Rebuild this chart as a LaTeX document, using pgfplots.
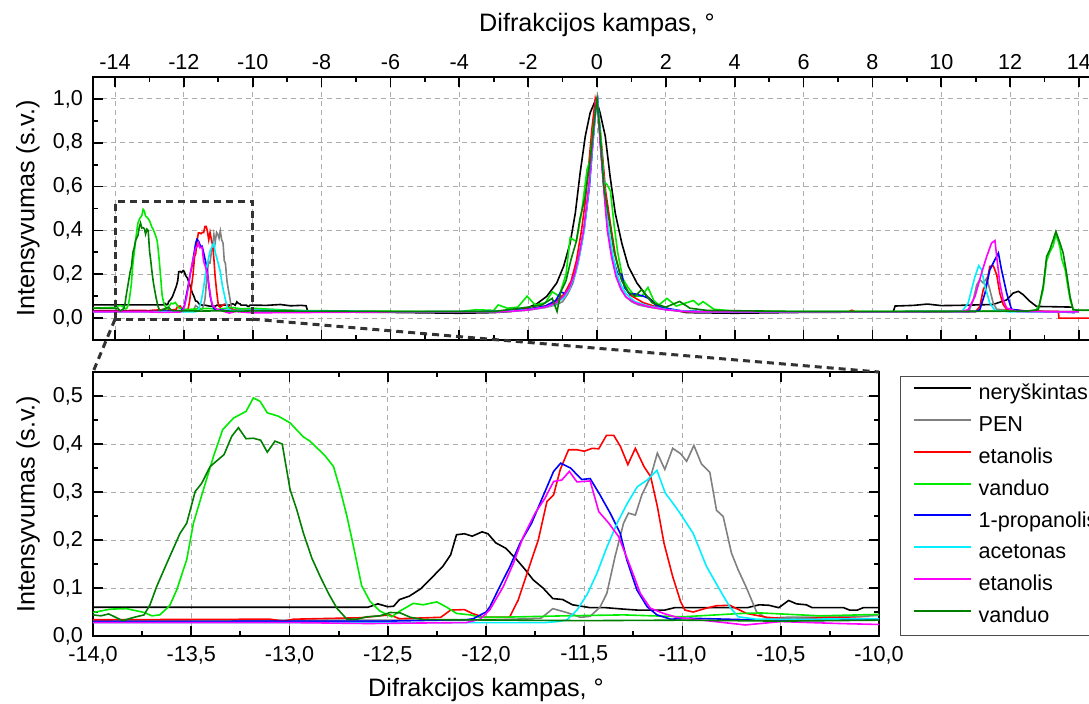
\documentclass[border=0pt]{standalone}
\usepackage{fontspec}
\setmainfont{Liberation Sans}
\usepackage{pgfplots}
\usepackage{pgfplotstable}
\pgfplotsset{compat=1.18}

\definecolor{cGray}{RGB}{128,128,128}
\definecolor{cRed}{RGB}{255,0,0}
\definecolor{cLime}{RGB}{0,235,0}
\definecolor{cBlue}{RGB}{0,0,255}
\definecolor{cCyan}{RGB}{0,240,255}
\definecolor{cMag}{RGB}{255,0,255}
\definecolor{cDG}{RGB}{0,128,0}

% ---------- data ----------
\pgfplotstableread{
x y
-14.64 0.060
-12.60 0.060
-12.55 0.067
-12.50 0.061
-12.47 0.062
-12.44 0.076
-12.39 0.083
-12.33 0.099
-12.27 0.124
-12.22 0.145
-12.18 0.169
-12.15 0.211
-12.11 0.213
-12.07 0.208
-12.02 0.217
-11.99 0.213
-11.95 0.194
-11.90 0.183
-11.85 0.162
-11.80 0.138
-11.76 0.117
-11.71 0.100
-11.66 0.078
-11.61 0.076
-11.56 0.065
-11.47 0.059
-11.39 0.059
-11.30 0.056
-11.23 0.054
-11.09 0.054
-11.04 0.059
-10.96 0.059
-10.67 0.059
-10.61 0.065
-10.56 0.064
-10.51 0.059
-10.46 0.074
-10.42 0.067
-10.37 0.065
-10.34 0.059
-10.18 0.059
-10.15 0.054
-10.11 0.054
-10.08 0.059
-10.00 0.059
-9.60 0.058
-9.20 0.062
-8.90 0.056
-8.60 0.058
-8.45 0.056
-8.40 0.028
-6.00 0.026
-4.00 0.022
-3.00 0.025
-2.52 0.030
-2.03 0.046
-1.75 0.065
-1.46 0.099
-1.17 0.160
-0.97 0.236
-0.78 0.342
-0.63 0.479
-0.49 0.662
-0.34 0.830
-0.20 0.936
-0.03 1.000
0.09 0.936
0.24 0.830
0.38 0.647
0.53 0.479
0.72 0.342
0.91 0.236
1.16 0.160
1.45 0.099
1.74 0.061
2.12 0.040
2.60 0.025
4.00 0.022
6.00 0.026
8.60 0.028
8.66 0.055
9.20 0.058
9.60 0.064
10.00 0.057
10.50 0.058
11.00 0.060
11.50 0.062
11.90 0.083
12.09 0.114
12.24 0.122
12.38 0.107
12.57 0.077
12.77 0.053
13.20 0.052
13.83 0.050
}\tblBlack

\pgfplotstableread{
x y
-14.64 0.033
-12.00 0.033
-11.72 0.037
-11.66 0.057
-11.59 0.049
-11.52 0.039
-11.47 0.041
-11.42 0.060
-11.385 0.089
-11.343 0.166
-11.30 0.235
-11.275 0.256
-11.24 0.252
-11.207 0.294
-11.162 0.332
-11.128 0.381
-11.09 0.347
-11.05 0.391
-11.01 0.380
-10.979 0.364
-10.942 0.397
-10.903 0.358
-10.861 0.341
-10.827 0.262
-10.793 0.249
-10.751 0.173
-10.717 0.138
-10.674 0.100
-10.623 0.050
-10.572 0.037
-10.47 0.039
-10.25 0.039
-10.08 0.041
-10.00 0.043
-8.00 0.030
-4.00 0.028
-3.00 0.028
-2.50 0.030
-2.00 0.036
-1.50 0.048
-1.20 0.060
-1.00 0.075
-0.85 0.110
-0.70 0.160
-0.55 0.250
-0.42 0.360
-0.30 0.500
-0.20 0.660
-0.10 0.840
0.00 1.000
0.08 0.840
0.18 0.640
0.30 0.430
0.42 0.300
0.55 0.200
0.68 0.140
0.82 0.100
1.00 0.075
1.20 0.060
1.50 0.050
2.00 0.038
2.50 0.030
3.00 0.028
8.00 0.028
10.80 0.030
10.93 0.083
11.03 0.152
11.12 0.175
11.22 0.160
11.32 0.182
11.41 0.130
11.51 0.068
11.61 0.040
12.50 0.030
14.00 0.030
}\tblGray

\pgfplotstableread{
x y
-14.64 0.033
-13.10 0.035
-13.03 0.031
-12.98 0.035
-12.64 0.038
-12.49 0.044
-12.44 0.036
-12.23 0.039
-12.18 0.054
-12.11 0.055
-12.07 0.047
-12.01 0.039
-11.88 0.039
-11.836 0.075
-11.785 0.138
-11.734 0.200
-11.69 0.280
-11.656 0.294
-11.622 0.347
-11.58 0.388
-11.537 0.388
-11.50 0.385
-11.46 0.391
-11.426 0.390
-11.387 0.418
-11.35 0.418
-11.316 0.395
-11.278 0.357
-11.24 0.391
-11.196 0.353
-11.162 0.332
-11.128 0.270
-11.094 0.193
-11.05 0.124
-11.01 0.072
-10.988 0.054
-10.946 0.050
-10.878 0.058
-10.827 0.063
-10.759 0.064
-10.674 0.047
-10.572 0.039
-10.437 0.035
-10.25 0.039
-10.00 0.035
-8.00 0.030
-6.00 0.028
-4.00 0.028
-3.00 0.030
-2.50 0.035
-2.00 0.042
-1.50 0.055
-1.20 0.075
-0.95 0.110
-0.75 0.170
-0.60 0.260
-0.45 0.400
-0.35 0.520
-0.25 0.680
-0.15 0.860
-0.05 1.000
0.05 0.930
0.15 0.760
0.25 0.580
0.38 0.440
0.53 0.290
0.72 0.170
0.96 0.105
1.35 0.070
1.83 0.046
2.50 0.030
4.00 0.028
7.30 0.028
7.40 0.036
7.50 0.028
9.00 0.028
11.00 0.030
11.12 0.053
11.22 0.130
11.32 0.160
11.41 0.236
11.51 0.239
11.61 0.198
11.70 0.114
11.80 0.061
11.90 0.040
12.50 0.032
13.40 0.030
13.42 0.000
14.64 0.000
}\tblRed

\pgfplotstableread{
x y
-14.64 0.045
-14.00 0.049
-13.91 0.056
-13.83 0.057
-13.74 0.049
-13.70 0.042
-13.66 0.044
-13.61 0.063
-13.574 0.096
-13.523 0.159
-13.489 0.235
-13.438 0.305
-13.387 0.374
-13.34 0.430
-13.285 0.454
-13.221 0.468
-13.184 0.496
-13.15 0.489
-13.113 0.465
-13.057 0.458
-12.997 0.444
-12.93 0.415
-12.896 0.406
-12.82 0.376
-12.776 0.353
-12.742 0.305
-12.708 0.250
-12.674 0.186
-12.633 0.105
-12.59 0.072
-12.54 0.052
-12.48 0.040
-12.438 0.052
-12.37 0.068
-12.32 0.065
-12.25 0.071
-12.20 0.060
-12.15 0.047
-12.08 0.044
-12.03 0.039
-11.93 0.039
-11.60 0.042
-11.30 0.044
-11.00 0.040
-10.70 0.047
-10.60 0.048
-10.30 0.042
-10.00 0.045
-9.00 0.035
-7.00 0.032
-5.00 0.030
-4.00 0.030
-3.50 0.038
-3.00 0.035
-2.87 0.060
-2.60 0.045
-2.30 0.050
-2.03 0.100
-1.80 0.060
-1.50 0.070
-1.30 0.120
-1.10 0.100
-0.90 0.200
-0.78 0.366
-0.60 0.350
-0.45 0.480
-0.29 0.677
-0.20 0.720
-0.10 0.880
0.00 0.980
0.10 0.850
0.20 0.620
0.29 0.610
0.39 0.580
0.50 0.420
0.60 0.300
0.75 0.180
0.90 0.140
1.10 0.100
1.30 0.100
1.48 0.140
1.65 0.080
1.80 0.060
2.03 0.090
2.30 0.055
2.60 0.070
2.80 0.080
2.95 0.060
3.08 0.075
3.40 0.040
4.00 0.032
6.00 0.030
8.00 0.030
10.00 0.032
12.50 0.032
12.75 0.036
12.85 0.060
12.96 0.130
13.06 0.260
13.15 0.300
13.25 0.330
13.33 0.380
13.40 0.350
13.45 0.320
13.50 0.270
13.54 0.250
13.60 0.220
13.68 0.140
13.75 0.080
13.83 0.040
14.00 0.035
14.64 0.035
}\tblLime

\pgfplotstableread{
x y
-14.64 0.030
-12.50 0.031
-12.10 0.034
-12.065 0.036
-12.00 0.050
-11.98 0.061
-11.93 0.103
-11.878 0.145
-11.827 0.193
-11.768 0.235
-11.707 0.294
-11.656 0.343
-11.62 0.360
-11.57 0.350
-11.513 0.326
-11.47 0.328
-11.42 0.294
-11.368 0.256
-11.317 0.214
-11.283 0.158
-11.232 0.096
-11.18 0.061
-11.13 0.044
-11.06 0.035
-10.96 0.037
-10.50 0.032
-10.00 0.034
-6.00 0.028
-3.00 0.030
-2.50 0.034
-2.00 0.040
-1.50 0.055
-1.20 0.080
-1.05 0.120
-0.92 0.110
-0.75 0.150
-0.63 0.210
-0.50 0.300
-0.37 0.410
-0.22 0.600
-0.12 0.800
-0.03 0.980
0.02 1.000
0.10 0.800
0.20 0.600
0.32 0.400
0.45 0.280
0.60 0.200
0.72 0.200
0.80 0.140
0.95 0.110
1.10 0.110
1.35 0.100
1.50 0.090
1.70 0.060
2.00 0.045
2.50 0.032
4.00 0.028
8.00 0.028
11.00 0.030
11.12 0.038
11.27 0.114
11.41 0.220
11.56 0.267
11.66 0.297
11.75 0.220
11.90 0.114
12.04 0.040
12.50 0.030
13.50 0.028
13.88 0.025
}\tblBlue

\pgfplotstableread{
x y
-14.64 0.028
-12.00 0.028
-11.70 0.028
-11.64 0.030
-11.59 0.033
-11.537 0.054
-11.486 0.086
-11.435 0.131
-11.384 0.186
-11.333 0.235
-11.28 0.277
-11.23 0.311
-11.18 0.325
-11.13 0.345
-11.088 0.298
-11.037 0.270
-11.013 0.256
-10.946 0.214
-10.878 0.145
-10.81 0.096
-10.76 0.061
-10.717 0.040
-10.623 0.035
-10.42 0.035
-10.00 0.036
-6.00 0.028
-3.00 0.029
-2.50 0.032
-2.00 0.038
-1.50 0.050
-1.20 0.065
-0.95 0.095
-0.78 0.140
-0.63 0.200
-0.50 0.290
-0.37 0.400
-0.23 0.600
-0.12 0.800
-0.02 0.990
0.02 1.000
0.10 0.820
0.20 0.620
0.32 0.420
0.44 0.300
0.56 0.210
0.70 0.150
0.85 0.110
1.10 0.075
1.50 0.055
2.00 0.040
2.50 0.032
3.00 0.029
8.00 0.028
10.60 0.030
10.78 0.068
10.98 0.190
11.09 0.239
11.17 0.220
11.27 0.145
11.41 0.068
11.56 0.035
12.00 0.028
14.00 0.028
}\tblCyan

\pgfplotstableread{
x y
-14.64 0.028
-13.00 0.028
-12.60 0.026
-12.10 0.028
-12.03 0.035
-11.98 0.055
-11.912 0.103
-11.86 0.152
-11.81 0.207
-11.75 0.256
-11.70 0.287
-11.656 0.322
-11.614 0.325
-11.576 0.343
-11.537 0.321
-11.47 0.323
-11.426 0.259
-11.375 0.235
-11.325 0.207
-11.266 0.145
-11.215 0.089
-11.164 0.058
-11.096 0.047
-11.03 0.039
-10.90 0.033
-10.68 0.023
-10.50 0.030
-10.20 0.026
-10.00 0.024
-6.00 0.028
-3.00 0.028
-2.50 0.031
-2.00 0.037
-1.50 0.050
-1.20 0.068
-0.97 0.100
-0.80 0.140
-0.65 0.200
-0.52 0.290
-0.39 0.400
-0.24 0.600
-0.13 0.800
-0.03 0.980
0.01 1.000
0.09 0.800
0.19 0.600
0.30 0.400
0.42 0.280
0.55 0.190
0.70 0.130
0.85 0.095
1.10 0.070
1.50 0.052
2.00 0.038
2.50 0.031
3.00 0.028
8.00 0.028
10.60 0.030
10.78 0.038
10.98 0.099
11.17 0.205
11.32 0.281
11.46 0.342
11.56 0.354
11.61 0.281
11.70 0.160
11.80 0.083
11.90 0.046
12.20 0.030
14.00 0.028
}\tblMag

\pgfplotstableread{
x y
-14.64 0.045
-14.00 0.044
-13.96 0.042
-13.92 0.046
-13.85 0.032
-13.79 0.039
-13.74 0.044
-13.71 0.065
-13.676 0.103
-13.625 0.151
-13.557 0.214
-13.523 0.235
-13.48 0.301
-13.447 0.318
-13.404 0.353
-13.333 0.378
-13.294 0.416
-13.26 0.434
-13.221 0.411
-13.184 0.412
-13.147 0.408
-13.113 0.383
-13.074 0.406
-13.037 0.400
-12.997 0.305
-12.963 0.263
-12.929 0.214
-12.886 0.162
-12.844 0.124
-12.802 0.089
-12.759 0.058
-12.708 0.035
-12.657 0.035
-12.606 0.040
-12.54 0.042
-12.487 0.049
-12.436 0.048
-12.385 0.039
-12.317 0.034
-12.23 0.034
-11.50 0.032
-11.00 0.033
-10.50 0.031
-10.00 0.033
-6.00 0.030
-3.00 0.030
-2.50 0.040
-2.00 0.050
-1.60 0.060
-1.30 0.090
-1.16 0.030
-1.05 0.120
-0.90 0.170
-0.75 0.270
-0.60 0.350
-0.50 0.450
-0.35 0.550
-0.20 0.720
-0.08 0.900
0.00 1.000
0.10 0.820
0.20 0.600
0.35 0.450
0.50 0.300
0.70 0.180
0.90 0.120
1.10 0.100
1.30 0.130
1.60 0.070
2.00 0.050
2.40 0.076
2.70 0.045
3.20 0.035
6.00 0.030
10.00 0.030
12.50 0.032
12.82 0.038
12.96 0.145
13.06 0.281
13.15 0.311
13.25 0.357
13.33 0.395
13.45 0.342
13.54 0.297
13.64 0.205
13.74 0.099
13.83 0.038
14.00 0.036
14.64 0.036
}\tblDG

\pgfplotsset{
  common/.style={
    scale only axis,
    /pgf/number format/assume math mode=true,
    /pgf/number format/use comma,
    scaled ticks=false,
    tick align=inside,
    major tick length=5pt,
    minor tick length=2.5pt,
    every tick/.style={black, line width=0.9pt},
    axis line style={line width=1.1pt},
    grid=major,
    major grid style={gray!65, line width=0.5pt, dash pattern=on 2.5pt off 2pt},
    every tick label/.append style={font=\fontsize{10.8}{13}\selectfont},
    every axis plot/.append style={line width=0.8pt},
  }
}

\begin{document}
\begin{tikzpicture}
% ---------------- top axis ----------------
\begin{axis}[common,
  at={(46.5pt,181.5pt)}, anchor=south west,
  width=504pt, height=131.5pt,
  xmin=-14.64, xmax=14.64, ymin=-0.1, ymax=1.1,
  xtick={-14,-12,-10,-8,-6,-4,-2,0,2,4,6,8,10,12,14},
  minor x tick num=1,
  ytick={0,0.2,0.4,0.6,0.8,1},
  minor y tick num=1,
  xticklabel pos=upper,
  xticklabel style={/pgf/number format/fixed, /pgf/number format/precision=0},
  yticklabel style={/pgf/number format/fixed, /pgf/number format/fixed zerofill, /pgf/number format/precision=1, xshift=-1.5pt},
  xlabel={Difrakcijos kampas, °},
  ylabel={Intensyvumas (s.v.)},
  every axis x label/.style={at={(axis description cs:0.5,1.198)}, anchor=center, font=\fontsize{12.6}{15}\selectfont},
  every axis y label/.style={at={(axis description cs:-0.0645,0.5)}, rotate=90, anchor=center, font=\fontsize{12.6}{15}\selectfont},
]
\addplot[black] table {\tblBlack};
\addplot[cGray] table {\tblGray};
\addplot[cRed] table {\tblRed};
\addplot[cLime] table {\tblLime};
\addplot[cBlue] table {\tblBlue};
\addplot[cCyan] table {\tblCyan};
\addplot[cMag] table {\tblMag};
\addplot[cDG] table {\tblDG};
\draw[black!80, line width=1.5pt, dash pattern=on 3.5pt off 2.5pt]
  (axis cs:-14,-0.005) rectangle (axis cs:-10,0.53);
\coordinate (RA) at (axis cs:-14,-0.005);
\coordinate (RB) at (axis cs:-10,-0.005);
\end{axis}

% ---------------- bottom axis ----------------
\begin{axis}[common,
  at={(46.5pt,33.5pt)}, anchor=south west,
  width=393pt, height=132pt,
  xmin=-14, xmax=-10, ymin=0, ymax=0.55,
  xtick={-14,-13.5,-13,-12.5,-12,-11.5,-11,-10.5,-10},
  minor x tick num=1,
  ytick={0,0.1,0.2,0.3,0.4,0.5},
  minor y tick num=1,
  xticklabel style={/pgf/number format/fixed, /pgf/number format/fixed zerofill, /pgf/number format/precision=1, yshift=-1.5pt},
  yticklabel style={/pgf/number format/fixed, /pgf/number format/fixed zerofill, /pgf/number format/precision=1, xshift=-1.5pt},
  xlabel={Difrakcijos kampas, °},
  ylabel={Intensyvumas (s.v.)},
  every axis x label/.style={at={(axis description cs:0.5,-0.2045)}, anchor=center, font=\fontsize{12.6}{15}\selectfont},
  every axis y label/.style={at={(axis description cs:-0.0827,0.5)}, rotate=90, anchor=center, font=\fontsize{12.6}{15}\selectfont},
  legend cell align=left,
  legend image code/.code={\draw[#1, line width=1pt] (0pt,3.3pt) -- (28.5pt,3.3pt);},
  legend style={at={(axis description cs:1.0267,0.985)}, anchor=north west,
    draw=black!70, line width=0.6pt,
    font=\fontsize{10.8}{13}\selectfont,
    inner xsep=6pt, inner ysep=1.2pt,
    column sep=3.5pt, row sep=0pt,
    nodes={inner sep=0pt, text height=10.5pt, text depth=5.4pt}},
]
\addplot[black] table {\tblBlack};
\addlegendentry{neryškintas}
\addplot[cGray] table {\tblGray};
\addlegendentry{PEN}
\addplot[cRed] table {\tblRed};
\addlegendentry{etanolis}
\addplot[cLime] table {\tblLime};
\addlegendentry{vanduo}
\addplot[cBlue] table {\tblBlue};
\addlegendentry{1-propanolis}
\addplot[cCyan] table {\tblCyan};
\addlegendentry{acetonas}
\addplot[cMag] table {\tblMag};
\addlegendentry{etanolis}
\addplot[cDG] table {\tblDG};
\addlegendentry{vanduo}
\coordinate (CA) at (rel axis cs:0,1);
\coordinate (CB) at (rel axis cs:1,1);
\end{axis}

\draw[black!80, line width=1.5pt, dash pattern=on 3.5pt off 2.5pt] (RA) -- (CA);
\draw[black!80, line width=1.5pt, dash pattern=on 3.5pt off 2.5pt] (RB) -- (CB);

\pgfresetboundingbox
\path[use as bounding box] (0,0) rectangle (544.5pt,351.5pt);
\end{tikzpicture}
\end{document}
